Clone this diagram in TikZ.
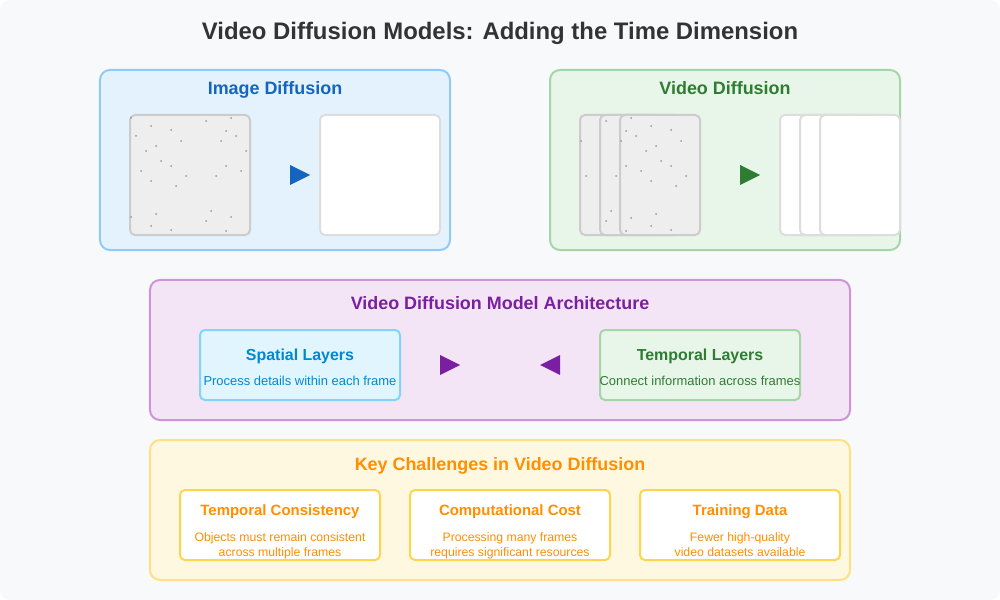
\documentclass[tikz,border=0pt]{standalone}
\usepackage{fontspec}
\setmainfont{Liberation Sans}
\usepackage{xcolor}
\usetikzlibrary{positioning}

\definecolor{bgcol}{HTML}{F8F9FA}
\definecolor{titlecol}{HTML}{333333}
\definecolor{imgfill}{HTML}{E3F2FD}
\definecolor{imgdraw}{HTML}{90CAF9}
\definecolor{imgtext}{HTML}{1565C0}
\definecolor{vidfill}{HTML}{E8F5E9}
\definecolor{viddraw}{HTML}{A5D6A7}
\definecolor{vidtext}{HTML}{2E7D32}
\definecolor{noisefill}{HTML}{EEEEEE}
\definecolor{noisedraw}{HTML}{CCCCCC}
\definecolor{cleandraw}{HTML}{DDDDDD}
\definecolor{dotcol}{HTML}{999999}
\definecolor{archfill}{HTML}{F3E5F5}
\definecolor{archdraw}{HTML}{CE93D8}
\definecolor{archtext}{HTML}{7B1FA2}
\definecolor{spafill}{HTML}{E1F5FE}
\definecolor{spadraw}{HTML}{81D4FA}
\definecolor{spatext}{HTML}{0288D1}
\definecolor{chfill}{HTML}{FFF8E1}
\definecolor{chdraw}{HTML}{FFE082}
\definecolor{chbox}{HTML}{FFD54F}
\definecolor{chtext}{HTML}{FF8F00}

\begin{document}
\begin{tikzpicture}[
    x=0.2mm, y=-0.2mm,
    panel/.style={draw, line width=0.4mm, rounded corners=2mm, inner sep=0pt},
    bigpanel/.style={panel, minimum width=70mm, minimum height=36mm},
    widepanel/.style={panel, minimum width=140mm, minimum height=28mm},
    frame/.style={draw, line width=0.4mm, rounded corners=1mm, inner sep=0pt,
                  minimum height=24mm},
    noisy/.style={frame, fill=noisefill, draw=noisedraw},
    clean/.style={frame, fill=white, draw=cleandraw},
    layerbox/.style={panel, rounded corners=1mm, minimum width=40mm, minimum height=14mm},
    heading/.style={anchor=base, font=\fontsize{10.2}{12}\selectfont\bfseries},
    layertitle/.style={anchor=base, font=\fontsize{9.07}{11}\selectfont\bfseries},
    layerdesc/.style={anchor=base, font=\fontsize{7.37}{9}\selectfont},
    boxtitle/.style={anchor=base, font=\fontsize{8.5}{10}\selectfont\bfseries},
    desc/.style={anchor=base, font=\fontsize{6.97}{8.5}\selectfont},
    dot/.style={fill=dotcol},
]
% --- Background ---
\fill[bgcol, rounded corners=2mm] (0,0) rectangle (1000,600);
\useasboundingbox (0,0) rectangle (1000,600);

\node[anchor=base, text=titlecol, font=\fontsize{13.6}{16}\selectfont\bfseries]
    (title) at (500,40) {Video Diffusion Models: Adding the Time Dimension};

% --- Image Diffusion ---
\node[bigpanel, fill=imgfill, draw=imgdraw] (imgpanel) at (275,160) {};
\node[heading, text=imgtext] (imgtitle) at (275,95) {Image Diffusion};
\node[noisy, minimum width=24mm] (imgnoise) at (190,175) {};
\foreach \dx/\dy in {131/118,151/126,171/130,206/121,231/118,226/131,236/136,
    136/136,181/141,221/141,156/146,146/151,246/151,161/161,171/166,226/166,
    141/171,241/171,186/176,216/176,151/181,176/186,211/211,156/214,131/217,
    231/217,206/221,151/226,171/230,226/231}
    \fill[dot] (\dx,\dy) circle[radius=0.2mm];
\fill[imgtext] (290,165) -- (310,175) -- (290,185) -- cycle;
\node[clean, minimum width=24mm] (imgclean) at (380,175) {};

% --- Video Diffusion ---
\node[bigpanel, fill=vidfill, draw=viddraw] (vidpanel) at (725,160) {};
\node[heading, text=vidtext] (vidtitle) at (725,95) {Video Diffusion};
\node[noisy, minimum width=16mm] (vidnoiseA) at (620,175) {};
\foreach \dx/\dy in {581/141,586/176}
    \fill[dot] (\dx,\dy) circle[radius=0.2mm];
\node[noisy, minimum width=16mm] (vidnoiseB) at (640,175) {};
\foreach \dx/\dy in {606/121,616/176,611/211,606/221}
    \fill[dot] (\dx,\dy) circle[radius=0.2mm];
\node[noisy, minimum width=16mm] (vidnoiseC) at (660,175) {};
\foreach \dx/\dy in {621/141,631/118,651/126,671/130,626/131,636/136,681/141,
    656/146,646/151,661/161,626/166,671/166,641/171,686/176,651/181,676/186,
    656/214,631/218,651/226,626/231,671/230}
    \fill[dot] (\dx,\dy) circle[radius=0.2mm];
\fill[vidtext] (740,165) -- (760,175) -- (740,185) -- cycle;
\node[clean, minimum width=16mm] (vidcleanA) at (820,175) {};
\node[clean, minimum width=16mm] (vidcleanB) at (840,175) {};
\node[clean, minimum width=16mm] (vidcleanC) at (860,175) {};

% --- Architecture ---
\node[widepanel, fill=archfill, draw=archdraw] (archpanel) at (500,350) {};
\node[heading, text=archtext] (archtitle) at (500,310) {Video Diffusion Model Architecture};

\node[layerbox, fill=spafill, draw=spadraw] (spatial) at (300,365) {};
\node[layertitle, text=spatext] (spatialtitle) at (300,360) {Spatial Layers};
\node[layerdesc, text=spatext] (spatialdesc) at (300,385) {Process details within each frame};

\node[layerbox, fill=vidfill, draw=viddraw] (temporal) at (700,365) {};
\node[layertitle, text=vidtext] (temporaltitle) at (700,360) {Temporal Layers};
\node[layerdesc, text=vidtext] (temporaldesc) at (700,385) {Connect information across frames};

\fill[archtext] (440,355) -- (460,365) -- (440,375) -- cycle;
\fill[archtext] (560,355) -- (540,365) -- (560,375) -- cycle;

% --- Challenges ---
\node[widepanel, fill=chfill, draw=chdraw] (chpanel) at (500,510) {};
\node[heading, text=chtext] (chtitle) at (500,470) {Key Challenges in Video Diffusion};

\node[layerbox, fill=white, draw=chbox] (consist) at (280,525) {};
\node[boxtitle, text=chtext] at (280,515) {Temporal Consistency};
\node[desc, text=chtext] at (280,541) {Objects must remain consistent};
\node[desc, text=chtext] at (280,556) {across multiple frames};

\node[layerbox, fill=white, draw=chbox] (compute) at (510,525) {};
\node[boxtitle, text=chtext] at (510,515) {Computational Cost};
\node[desc, text=chtext] at (510,541) {Processing many frames};
\node[desc, text=chtext] at (510,556) {requires significant resources};

\node[layerbox, fill=white, draw=chbox] (data) at (740,525) {};
\node[boxtitle, text=chtext] at (740,515) {Training Data};
\node[desc, text=chtext] at (740,541) {Fewer high-quality};
\node[desc, text=chtext] at (740,556) {video datasets available};
\end{tikzpicture}
\end{document}
